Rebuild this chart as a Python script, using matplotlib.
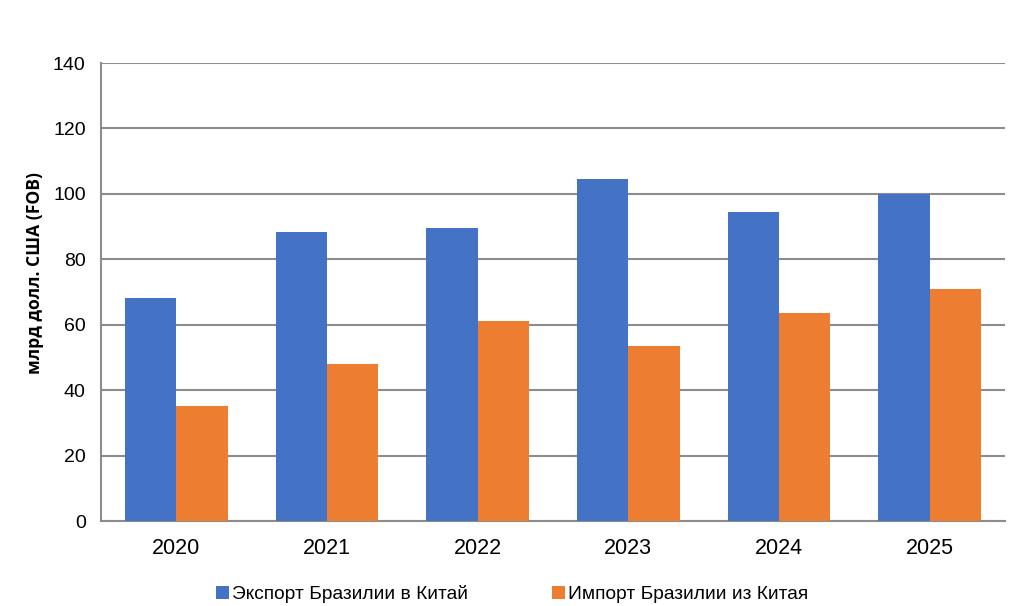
import numpy as np
import matplotlib.pyplot as plt

# ------------------------
# Data (bn USD, FOB)
# ------------------------
years = ["2020", "2021", "2022", "2023", "2024", "2025"]
exports = [68.1, 88.2, 89.6, 104.5, 94.4, 100.1]
imports = [35.2, 47.9, 61.0, 53.5, 63.7, 71.0]

blue = "#4472C4"
orange = "#ED7D31"

plt.rcParams["font.family"] = ["Liberation Sans", "DejaVu Sans"]

fig = plt.figure(figsize=(10.24, 6.06), dpi=100)
ax = fig.add_axes([101 / 1024, 1 - 521 / 606, 904 / 1024, 458 / 606])

x = np.arange(len(years))
w = 0.34
ax.bar(x - w / 2, exports, width=w, color=blue, label="Экспорт Бразилии в Китай", zorder=3)
ax.bar(x + w / 2, imports, width=w, color=orange, label="Импорт Бразилии из Китая", zorder=3)

ax.set_xlim(-0.5, len(years) - 0.5)
ax.set_ylim(0, 140)
ax.set_yticks(range(0, 141, 20))
ax.set_xticks(x)
ax.set_xticklabels(years)

# grid and axis lines
ax.grid(axis="y", color="#8c8c8c", linewidth=1.5, zorder=0)
for s in ["top", "right"]:
    ax.spines[s].set_visible(False)
for s in ["left", "bottom"]:
    ax.spines[s].set_color("#8c8c8c")
    ax.spines[s].set_linewidth(1.5)
ax.tick_params(axis="both", length=0)
ax.tick_params(axis="y", labelsize=14, pad=11)
ax.tick_params(axis="x", labelsize=15.5, pad=12)

# y label placed by hand (it sits above the axes centre in the original)
fig.text(35 / 1024, 1 - 273.5 / 606, "млрд долл. США (FOB)", rotation=90,
         ha="center", va="center", fontsize=12.6, fontweight="bold",
         family=["Open Sans", "DejaVu Sans"])

fig.legend(loc="center", bbox_to_anchor=(0.5, 1 - 594 / 606), ncol=2,
           frameon=False, fontsize=13.75, handlelength=0.68, handleheight=0.63,
           handletextpad=0.16, columnspacing=4.4)

plt.savefig("out.png", dpi=100)
